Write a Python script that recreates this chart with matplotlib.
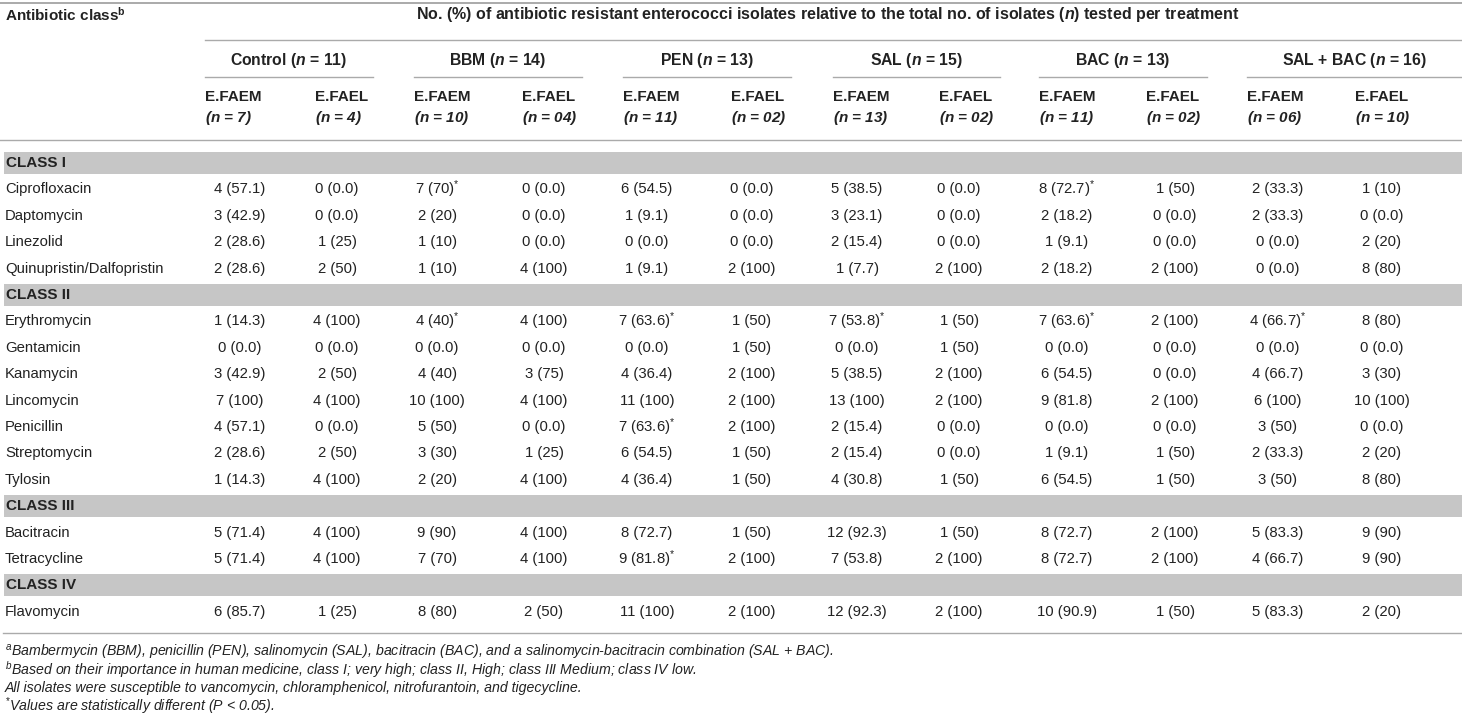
import matplotlib.pyplot as plt
from matplotlib.patches import Rectangle

plt.rcParams['font.family'] = ['Liberation Sans', 'DejaVu Sans']
plt.rcParams['mathtext.fontset'] = 'custom'
plt.rcParams['mathtext.rm'] = 'Liberation Sans'
plt.rcParams['mathtext.it'] = 'Liberation Sans:italic'
plt.rcParams['mathtext.bf'] = 'Liberation Sans:bold'
plt.rcParams['mathtext.bfit'] = 'Liberation Sans:italic:bold'

# 数据
classes = ['CLASS I', 'CLASS II', 'CLASS III', 'CLASS IV']
drugs = [
    ['Ciprofloxacin', 'Daptomycin', 'Linezolid', 'Quinupristin/Dalfopristin'],
    ['Erythromycin', 'Gentamicin', 'Kanamycin', 'Lincomycin', 'Penicillin',
     'Streptomycin', 'Tylosin'],
    ['Bacitracin', 'Tetracycline'],
    ['Flavomycin'],
]
treatments = ['Control', 'BBM', 'PEN', 'SAL', 'BAC', 'SAL + BAC']
treat_n = [11, 14, 13, 15, 13, 16]
species = ['E.FAEM', 'E.FAEL']
species_n = [['7', '4'], ['10', '04'], ['11', '02'], ['13', '02'], ['11', '02'], ['06', '10']]

ctrl_faem = ['4 (57.1)', '3 (42.9)', '2 (28.6)', '2 (28.6)', '1 (14.3)', '0 (0.0)', '3 (42.9)',
             '7 (100)', '4 (57.1)', '2 (28.6)', '1 (14.3)', '5 (71.4)', '5 (71.4)', '6 (85.7)']
ctrl_fael = ['0 (0.0)', '0 (0.0)', '1 (25)', '2 (50)', '4 (100)', '0 (0.0)', '2 (50)',
             '4 (100)', '0 (0.0)', '2 (50)', '4 (100)', '4 (100)', '4 (100)', '1 (25)']
bbm_faem = ['7 (70)*', '2 (20)', '1 (10)', '1 (10)', '4 (40)*', '0 (0.0)', '4 (40)',
            '10 (100)', '5 (50)', '3 (30)', '2 (20)', '9 (90)', '7 (70)', '8 (80)']
bbm_fael = ['0 (0.0)', '0 (0.0)', '0 (0.0)', '4 (100)', '4 (100)', '0 (0.0)', '3 (75)',
            '4 (100)', '0 (0.0)', '1 (25)', '4 (100)', '4 (100)', '4 (100)', '2 (50)']
pen_faem = ['6 (54.5)', '1 (9.1)', '0 (0.0)', '1 (9.1)', '7 (63.6)*', '0 (0.0)', '4 (36.4)',
            '11 (100)', '7 (63.6)*', '6 (54.5)', '4 (36.4)', '8 (72.7)', '9 (81.8)*', '11 (100)']
pen_fael = ['0 (0.0)', '0 (0.0)', '0 (0.0)', '2 (100)', '1 (50)', '1 (50)', '2 (100)',
            '2 (100)', '2 (100)', '1 (50)', '1 (50)', '1 (50)', '2 (100)', '2 (100)']
sal_faem = ['5 (38.5)', '3 (23.1)', '2 (15.4)', '1 (7.7)', '7 (53.8)*', '0 (0.0)', '5 (38.5)',
            '13 (100)', '2 (15.4)', '2 (15.4)', '4 (30.8)', '12 (92.3)', '7 (53.8)', '12 (92.3)']
sal_fael = ['0 (0.0)', '0 (0.0)', '0 (0.0)', '2 (100)', '1 (50)', '1 (50)', '2 (100)',
            '2 (100)', '0 (0.0)', '0 (0.0)', '1 (50)', '1 (50)', '2 (100)', '2 (100)']
bac_faem = ['8 (72.7)*', '2 (18.2)', '1 (9.1)', '2 (18.2)', '7 (63.6)*', '0 (0.0)', '6 (54.5)',
            '9 (81.8)', '0 (0.0)', '1 (9.1)', '6 (54.5)', '8 (72.7)', '8 (72.7)', '10 (90.9)']
bac_fael = ['1 (50)', '0 (0.0)', '0 (0.0)', '2 (100)', '2 (100)', '0 (0.0)', '0 (0.0)',
            '2 (100)', '0 (0.0)', '1 (50)', '1 (50)', '2 (100)', '2 (100)', '1 (50)']
salbac_faem = ['2 (33.3)', '2 (33.3)', '0 (0.0)', '0 (0.0)', '4 (66.7)*', '0 (0.0)', '4 (66.7)',
               '6 (100)', '3 (50)', '2 (33.3)', '3 (50)', '5 (83.3)', '4 (66.7)', '5 (83.3)']
salbac_fael = ['1 (10)', '0 (0.0)', '2 (20)', '8 (80)', '8 (80)', '0 (0.0)', '3 (30)',
               '10 (100)', '0 (0.0)', '2 (20)', '8 (80)', '9 (90)', '9 (90)', '2 (20)']
columns = [ctrl_faem, ctrl_fael, bbm_faem, bbm_fael, pen_faem, pen_fael,
           sal_faem, sal_fael, bac_faem, bac_fael, salbac_faem, salbac_fael]

footnotes = [
    r'$^{a}$Bambermycin (BBM), penicillin (PEN), salinomycin (SAL), bacitracin (BAC), '
    r'and a salinomycin-bacitracin combination (SAL + BAC).',
    r'$^{b}$Based on their importance in human medicine, class I; very high; class II, High; '
    r'class III Medium; class IV low.',
    'All isolates were susceptible to vancomycin, chloramphenicol, nitrofurantoin, and tigecycline.',
    r'$^{*}$Values are statistically different (P < 0.05).',
]

# 布局 (像素)
W, H = 1462, 721
col_left = [205, 315, 414, 522, 623, 731, 833, 939, 1039, 1146, 1247, 1355]
col_mid = [240, 337, 437, 544, 647, 752, 857, 959, 1067, 1175, 1278, 1382]
group_end = [373, 582, 791, 1000, 1207, 1462]
row_y0, row_dy = 163, 26.4
txt = '#222222'
line_c = '#aaaaaa'
band_c = '#c6c6c6'

fig = plt.figure(figsize=(W / 100, H / 100), dpi=100)
ax = fig.add_axes([0, 0, 1, 1])
ax.set_xlim(0, W)
ax.set_ylim(H, 0)
ax.axis('off')

# 表头
ax.plot([0, W], [3, 3], color=line_c, lw=1.4)
ax.text(5, 15, r'Antibiotic class$^{\mathbf{b}}$', fontsize=11, fontweight='bold',
        color=txt, va='center')
ax.text(828, 15, r'No. (%) of antibiotic resistant enterococci isolates relative to the '
        r'total no. of isolates ($\mathbfit{n}$) tested per treatment',
        fontsize=11.5, fontweight='bold', color=txt, va='center', ha='center')
ax.plot([205, W], [40, 40], color=line_c, lw=1.0)
for i, t in enumerate(treatments):
    x0, x1 = col_left[2 * i], group_end[i]
    ax.text((x0 + x1) / 2, 61, t + r' ($\mathbfit{n}$ = ' + str(treat_n[i]) + ')',
            fontsize=11.3, fontweight='bold', color=txt, va='center', ha='center')
    ax.plot([x0, x1], [77, 77], color=line_c, lw=1.0)
    for j in range(2):
        c = 2 * i + j
        ax.text(col_left[c], 97, species[j], fontsize=11, fontweight='bold',
                color=txt, va='center')
        ax.text(col_left[c], 118, r'($\mathbfit{n}$ = ' + species_n[i][j] + ')',
                fontsize=11, fontweight='bold', fontstyle='italic', color=txt, va='center')
ax.plot([0, W], [140, 140], color=line_c, lw=1.0)

# 表体
k = 0
r = 0
for ci, cls in enumerate(classes):
    y = row_y0 + k * row_dy
    ax.add_patch(Rectangle((4, y - 11), W - 4, 22, color=band_c, lw=0))
    ax.text(6, y, cls, fontsize=11, fontweight='bold', color=txt, va='center')
    k += 1
    for d in drugs[ci]:
        y = row_y0 + k * row_dy
        ax.text(5, y, d, fontsize=10.7, color=txt, va='center')
        for c, col in enumerate(columns):
            s = col[r]
            if s.endswith('*'):
                s = s[:-1] + r'$^{*}$'
            ax.text(col_mid[c], y, s, fontsize=10.7, color=txt, va='center', ha='center')
        k += 1
        r += 1

ax.plot([3, W], [633, 633], color=line_c, lw=1.0)

# 脚注
for i, f in enumerate(footnotes):
    ax.text(5, 652 + i * 18, f, fontsize=10.2, fontstyle='italic', color=txt, va='center')

fig.savefig('out.png', dpi=100)
